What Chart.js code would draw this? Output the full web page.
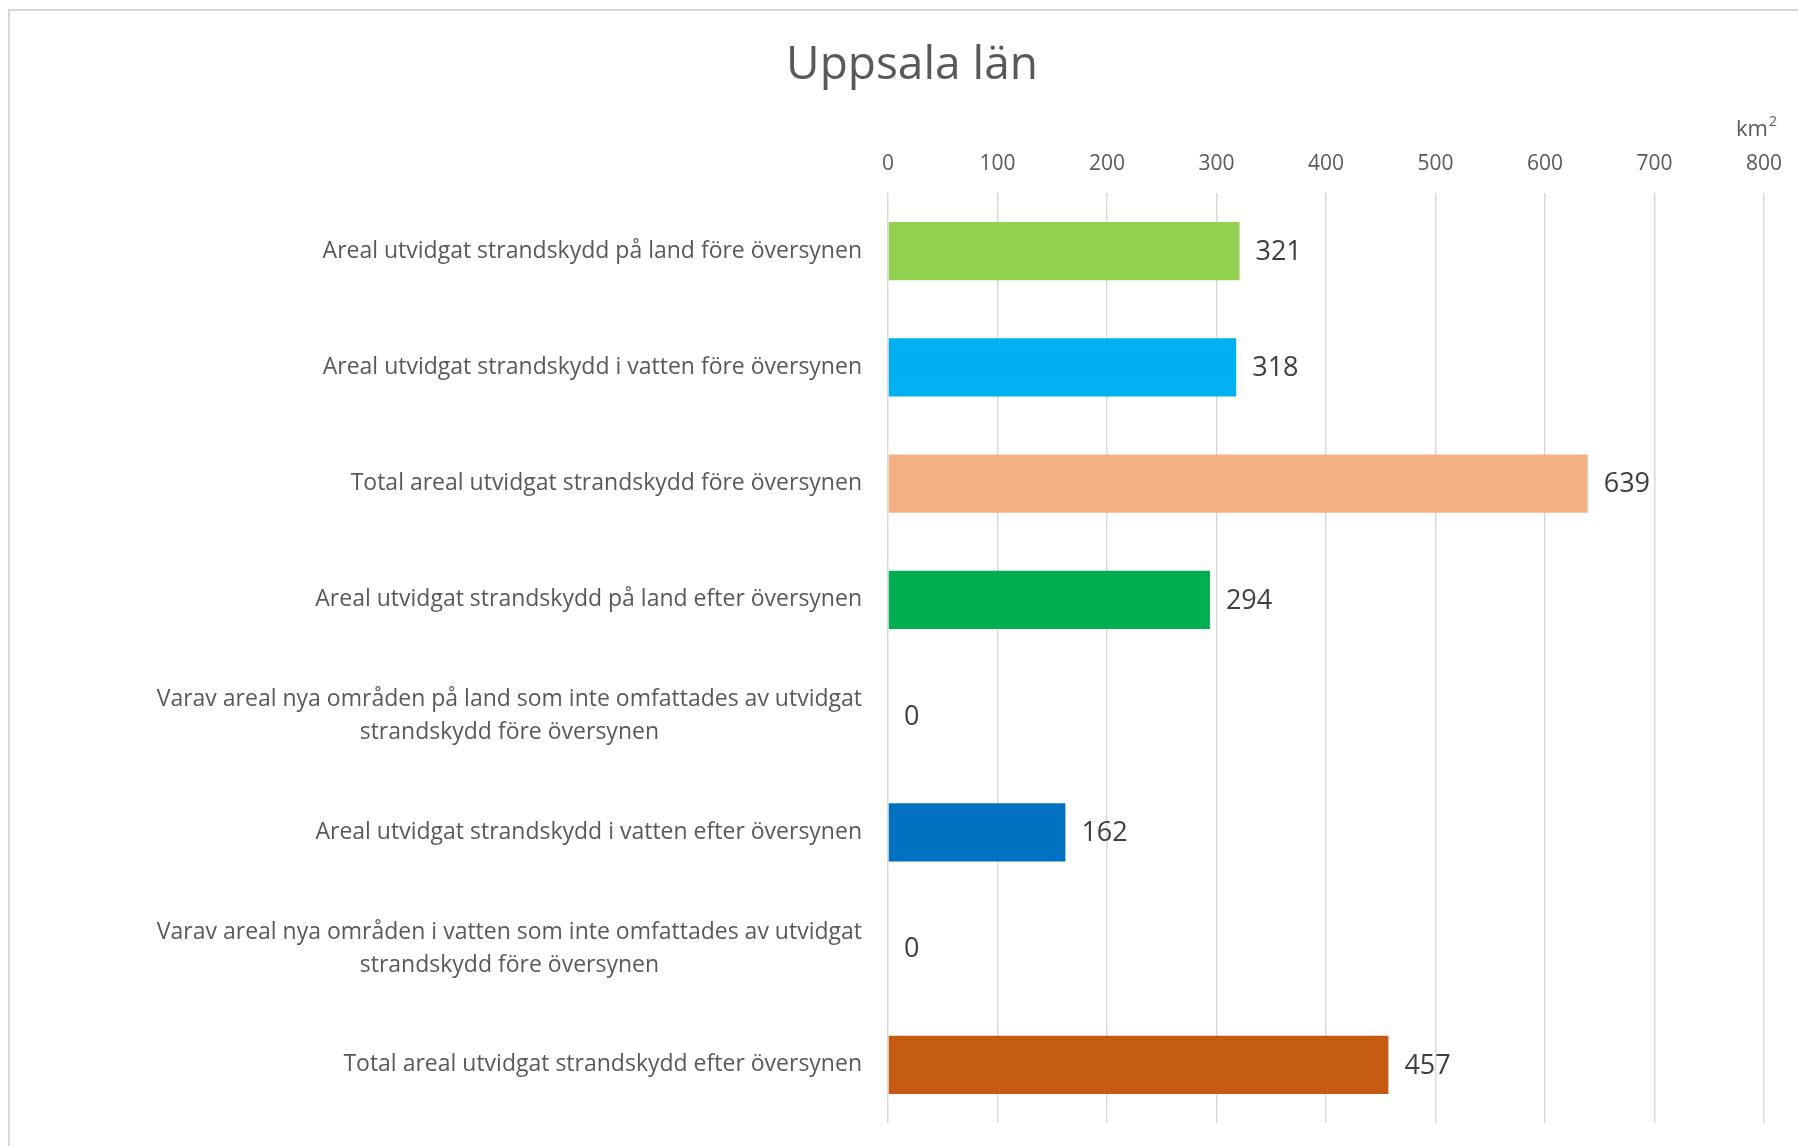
<!DOCTYPE html>
<html>
<head>
<meta charset="utf-8">
<script src="https://cdn.jsdelivr.net/npm/chart.js@4"></script>
<style>
  body { margin: 0; background: #fff; overflow: hidden; }
  #frame { position: absolute; left: 8px; top: 9px; width: 2000px; height: 2000px;
           border-left: 2px solid #d9d9d9; border-top: 2px solid #d9d9d9; }
  #chart { position: absolute; left: 0; top: 0; }
</style>
</head>
<body>
<div id="frame"></div>
<canvas id="chart" width="1798" height="1146"></canvas>
<script>
// Uppsala län - utvidgat strandskydd (km2)
const categories = [
    'Areal utvidgat strandskydd på land före översynen',
    'Areal utvidgat strandskydd i vatten före översynen',
    'Total areal utvidgat strandskydd före översynen',
    'Areal utvidgat strandskydd på land efter översynen',
    ['Varav areal nya områden på land som inte omfattades av utvidgat', 'strandskydd före översynen'],
    'Areal utvidgat strandskydd i vatten efter översynen',
    ['Varav areal nya områden i vatten som inte omfattades av utvidgat', 'strandskydd före översynen'],
    'Total areal utvidgat strandskydd efter översynen'
];
const values = [321, 318, 639, 294, 0, 162, 0, 457];
const barColors = ['#92D050', '#00B0F0', '#F4B183', '#00B050', '#A5A5A5', '#0070C0', '#5B9BD5', '#C55A11'];
const xMin = 0, xMax = 800, xStep = 100;
const titleText = 'Uppsala län';
const unitLabel = 'km';

const FONT = "'Open Sans', sans-serif";

// egna etiketter: titel, kategorier, värden och enhet
const labelsPlugin = {
    id: 'labels',
    afterDraw(chart) {
        const ctx = chart.ctx;
        const y = chart.scales.y;
        const area = chart.chartArea;
        ctx.save();

        ctx.fillStyle = '#595959';
        ctx.font = '46px ' + FONT;
        ctx.textAlign = 'center';
        ctx.textBaseline = 'middle';
        ctx.fillText(titleText, 912, 66);

        ctx.font = '23px ' + FONT;
        const rightEdge = area.left - 26;
        categories.forEach((lab, i) => {
            const lines = Array.isArray(lab) ? lab : [lab];
            const w = Math.max(...lines.map(l => ctx.measureText(l).width));
            const cx = rightEdge - w / 2;
            const cy = y.getPixelForValue(i);
            const gap = 33;
            lines.forEach((l, j) => {
                ctx.fillText(l, cx, cy + (j - (lines.length - 1) / 2) * gap);
            });
        });

        // värden vid staplarna
        ctx.fillStyle = '#404040';
        ctx.font = '27px ' + FONT;
        ctx.textAlign = 'left';
        chart.getDatasetMeta(0).data.forEach((bar, i) => {
            ctx.fillText(String(values[i]), bar.x + 16, bar.y + 1);
        });

        // enhet km²
        ctx.fillStyle = '#595959';
        ctx.font = '22px ' + FONT;
        ctx.textAlign = 'left';
        ctx.textBaseline = 'alphabetic';
        const kx = 1736, ky = 136;
        ctx.fillText(unitLabel, kx, ky);
        const kw = ctx.measureText(unitLabel).width;
        ctx.font = '14px ' + FONT;
        ctx.fillText('2', kx + kw + 1, ky - 10);
        ctx.restore();
    }
};

new Chart(document.getElementById('chart'), {
    type: 'bar',
    data: {
        labels: categories,
        datasets: [{
            data: values,
            backgroundColor: barColors,
            barPercentage: 1,
            categoryPercentage: 0.5
        }]
    },
    options: {
        indexAxis: 'y',
        responsive: false,
        animation: false,
        events: [],
        layout: { padding: { top: 0, right: 32, bottom: 23, left: 0 } },
        plugins: {
            legend: { display: false },
            tooltip: { enabled: false },
            title: { display: false }
        },
        scales: {
            x: {
                position: 'top',
                min: xMin,
                max: xMax,
                ticks: {
                    stepSize: xStep,
                    padding: 16,
                    color: '#595959',
                    font: { family: FONT, size: 21 }
                },
                grid: { color: '#d9d9d9', lineWidth: 1.5, drawTicks: false },
                border: { display: false },
                afterFit(scale) { scale.height = 193; }
            },
            y: {
                ticks: { display: false },
                grid: { display: false },
                border: { display: false },
                afterFit(scale) { scale.width = 888; }
            }
        }
    },
    plugins: [labelsPlugin]
});
</script>
</body>
</html>
